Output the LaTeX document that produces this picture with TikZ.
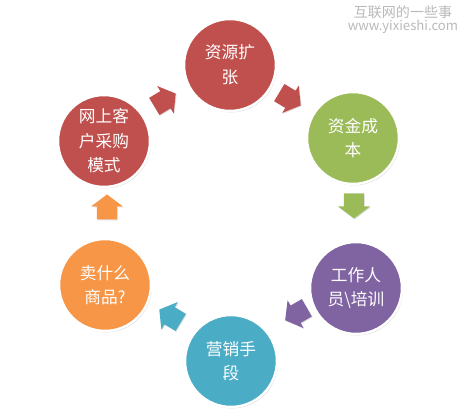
\documentclass[tikz,border=0pt]{standalone}
\usepackage{fontspec}
\setmainfont{Noto Sans CJK SC}
\usetikzlibrary{
    shadows         % For the soft shadow round the circles
}
\definecolor{cycred}{RGB}{192,80,77}
\definecolor{cycgreen}{RGB}{155,187,89}
\definecolor{cycpurple}{RGB}{128,100,162}
\definecolor{cycblue}{RGB}{75,172,198}
\definecolor{cycorange}{RGB}{247,150,70}
\definecolor{markgray}{RGB}{185,185,185}
\tikzset{
    % Style for the stages of the cycle
    stage/.style={
        circle,
        draw=white,
        line width=1.4pt,
        minimum size=1.84cm,
        inner sep=0pt,
        align=center,
        text=white,
        font=\fontsize{9.5}{14}\selectfont,
        drop shadow={opacity=0.3, shadow xshift=0.6pt, shadow yshift=-0.8pt}
    },
    % Block arrow between the stages, pointing along +x
    flow/.pic={
        \fill[drop shadow={opacity=0.25, shadow xshift=0.5pt, shadow yshift=-0.5pt}]
            (-12.5,-10) -- (0.5,-10) -- (0.5,-16) -- (12.5,0)
            -- (0.5,16) -- (0.5,10) -- (-12.5,10) -- cycle;
    },
    % Style for the watermark in the corner
    watermark/.style={
        text=markgray,
        inner sep=0pt
    }
}

\begin{document}
\begin{tikzpicture}[x=0.02cm, y=-0.02cm]
    \useasboundingbox (0,0) rectangle (458,412);

    % --- Watermark ---
    \node (mark_cn)  [watermark, font=\fontsize{8}{9}\selectfont] at (403,12) {互联网的一些事};
    \node (mark_url) [watermark, font=\fontsize{7.5}{9}\selectfont] at (403,27) {www.yixieshi.com};

    % --- The six stages ---
    \node (expand)   [stage, fill=cycred]    at (230,65)  {资源扩\\张};
    \node (capital)  [stage, fill=cycgreen]  at (353,138) {资金成\\本};
    \node (staff)    [stage, fill=cycpurple] at (356,288) {工作人\\员\textbackslash 培训};
    \node (market)   [stage, fill=cycblue]   at (231,361) {营销手\\段};
    \node (goods)    [stage, fill=cycorange] at (105,285) {卖什么\\商品?};
    \node (purchase) [stage, fill=cycred]    at (104,141) {网上客\\户采购\\模式};

    % --- Block arrows round the cycle ---
    \pic[fill=cycred, rotate=-31]    at (290,99)  {flow};
    \pic[fill=cycgreen, rotate=-90]  at (354,206) {flow};
    \pic[fill=cycpurple, rotate=210] at (296,314) {flow};
    \pic[fill=cycblue, rotate=149]   at (170,316) {flow};
    \pic[fill=cycorange, rotate=90]  at (107,207) {flow};
    \pic[fill=cycred, rotate=31]     at (165,100) {flow};

\end{tikzpicture}
\end{document}
